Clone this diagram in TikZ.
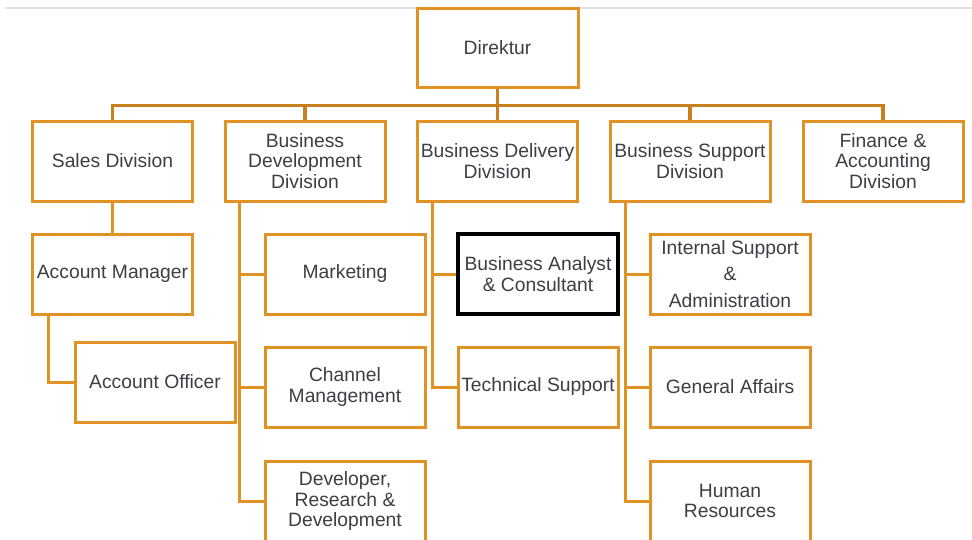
\documentclass[tikz,border=0pt]{standalone}
\usepackage{fontspec}
\setmainfont{Liberation Sans}
\definecolor{boxor}{RGB}{224,146,36}
\definecolor{busor}{RGB}{200,128,30}
\definecolor{txt}{RGB}{62,62,70}
\definecolor{rule}{RGB}{226,226,226}
\begin{document}
\begin{tikzpicture}[x=1pt,y=-1pt,
  unit/.style={draw=boxor,line width=3pt,minimum width=160pt,minimum height=80pt,
    inner sep=0pt,align=center,text=txt,font=\fontsize{19.3}{20.5}\selectfont},
  hilite/.style={unit,draw=black,line width=4pt},
  link/.style={draw=boxor,line width=3pt},
  toplink/.style={draw=busor,line width=3.5pt}]
\useasboundingbox (0,0) rectangle (972,539);
\fill[white] (0,0) rectangle (972,539);
\draw[rule,line width=1.5pt] (5,8) -- (972,8);
% nodes
\node[unit,minimum width=161pt,minimum height=79pt] (dir) at (497.5,47.5) {Direktur};
\node[unit] (sales)  at (112.5,161) {Sales Division};
\node[unit] (bizdev) at (305,161) {Business\\Development\\Division};
\node[unit] (deliv)  at (497.5,161) {Business Delivery\\Division};
\node[unit] (supp)   at (690,161) {Business Support\\Division};
\node[unit] (fin)    at (883,161) {Finance \&\\Accounting\\Division};
\node[unit] (accmgr) at (112.5,274) {Account Manager};
\node[unit] (mkt)    at (345,274) {Marketing};
\node[hilite] (ba)   at (538,274) {Business Analyst\\\& Consultant};
\node[unit] (intsup) at (730,274) {Internal Support\\[6pt]\&\\[6pt]Administration};
\node[unit] (accoff) at (155,382) {Account Officer};
\node[unit] (chan)   at (345,387) {Channel\\Management};
\node[unit] (tech)   at (538,387) {Technical Support};
\node[unit] (genaff) at (730,387) {General Affairs};
\node[unit] (dev)    at (345,501) {Developer,\\Research \&\\Development};
\node[unit] (hr)     at (730,501) {Human\\Resources};
% top-level connectors
\draw[toplink] (dir.south) -- ++(0,17) coordinate (bus);
\draw[toplink] (sales.north) -- (sales.north |- bus) -- (fin.north |- bus) -- (fin.north);
\draw[toplink] (bizdev.north) -- (bizdev.north |- bus);
\draw[toplink] (deliv.north) -- (deliv.north |- bus);
\draw[toplink] (supp.north) -- (supp.north |- bus);
% sales
\draw[link] (sales.south) -- (accmgr.north);
\draw[link] ([xshift=17pt]accmgr.south west) |- (accoff.west);
% business development
\draw[link] ([xshift=16pt]bizdev.south west) coordinate (bd) |- (dev.west);
\draw[link] (bd) |- (mkt.west);
\draw[link] (bd) |- (chan.west);
% business delivery
\draw[link] ([xshift=16pt]deliv.south west) coordinate (dl) |- (tech.west);
\draw[link] (dl) |- (ba.west);
% business support
\draw[link] ([xshift=17pt]supp.south west) coordinate (sp) |- (hr.west);
\draw[link] (sp) |- (intsup.west);
\draw[link] (sp) |- (genaff.west);
\end{tikzpicture}
\end{document}
